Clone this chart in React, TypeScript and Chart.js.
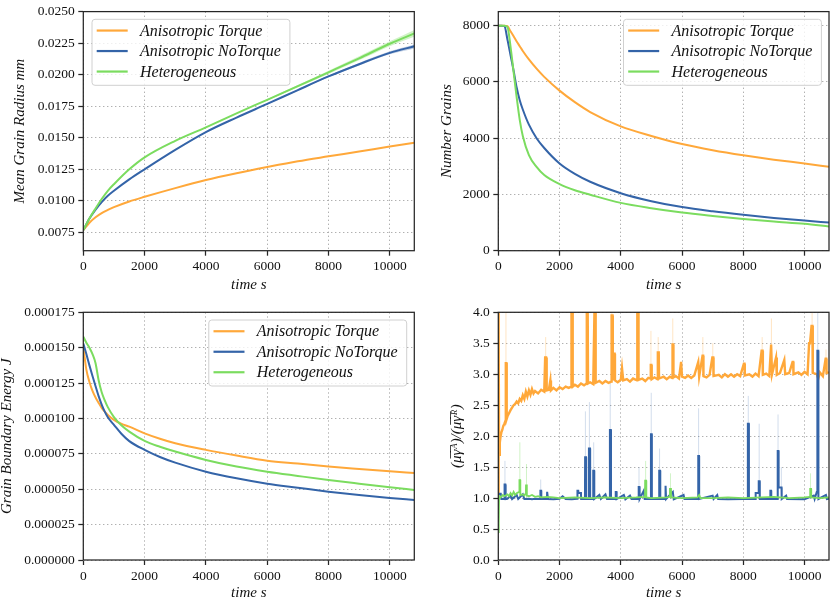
import React, { useEffect, useRef } from "react";
import { Chart, registerables } from "chart.js";

Chart.register(...registerables);

// ---------- labels / colours ----------
const seriesNames = ["Anisotropic Torque", "Anisotropic NoTorque", "Heterogeneous"];
const seriesColors = ["#ffa83a", "#3464a8", "#7bdc5f"];

// ---------- ticks ----------
const timeTicks = [0, 2000, 4000, 6000, 8000, 10000];
const radiusTicks = [0.0075, 0.01, 0.0125, 0.015, 0.0175, 0.02, 0.0225, 0.025];
const grainTicks = [0, 2000, 4000, 6000, 8000];
const energyTicks = [0, 0.000025, 0.00005, 0.000075, 0.0001, 0.000125, 0.00015, 0.000175];
const ratioTicks = [0, 0.5, 1, 1.5, 2, 2.5, 3, 3.5, 4];

// ---------- Mean grain radius ----------
const radiusTime = [0, 200, 400, 600, 800, 1000, 1500, 2000, 3000, 4000, 5000, 6000, 7000, 8000, 9000, 10000, 10800];
const radiusTorque = [0.00768, 0.00827, 0.0087, 0.00903, 0.00928, 0.0095, 0.00995, 0.01032, 0.01101, 0.01165, 0.01219, 0.01268, 0.01314, 0.01353, 0.01391, 0.0143, 0.0146];
const radiusNoTorque = [0.00768, 0.0086, 0.0093, 0.0099, 0.0104, 0.0108, 0.0117, 0.0125, 0.01404, 0.01545, 0.0166, 0.01768, 0.01878, 0.01986, 0.02083, 0.02173, 0.02225];
const radiusHetero = [0.00768, 0.0086, 0.0094, 0.01015, 0.0108, 0.01132, 0.0125, 0.01345, 0.01476, 0.01583, 0.01694, 0.01801, 0.01909, 0.02019, 0.0213, 0.02245, 0.02327];
const bandTime = [6000, 7000, 8000, 9000, 10000, 10800];
const heteroUpper = [0.01806, 0.01918, 0.02032, 0.02146, 0.02265, 0.02355];
const heteroLower = [0.01796, 0.019, 0.02006, 0.02114, 0.02225, 0.023];
const noTorqueUpper = [0.01772, 0.01883, 0.01993, 0.02093, 0.02185, 0.0224];
const noTorqueLower = [0.01764, 0.01873, 0.01979, 0.02073, 0.02161, 0.02208];

// ---------- Number of grains ----------
const grainTime = [0, 100, 200, 300, 400, 500, 600, 700, 800, 1000, 1250, 1500, 2000, 2500, 3000, 4000, 5000, 6000, 7000, 8000, 9000, 10000, 10800];
const grainsTorque = [8000, 8000, 8000, 7980, 7800, 7620, 7440, 7270, 7100, 6800, 6470, 6180, 5690, 5280, 4930, 4420, 4080, 3790, 3570, 3390, 3235, 3100, 2985];
const grainsNoTorque = [8000, 8000, 7980, 7500, 6950, 6400, 5800, 5350, 5020, 4480, 4000, 3650, 3100, 2730, 2450, 2045, 1760, 1550, 1400, 1275, 1165, 1070, 1000];
const grainsHetero = [8000, 8000, 8000, 7950, 7250, 6350, 5450, 4650, 4080, 3400, 2980, 2690, 2370, 2150, 1990, 1700, 1510, 1356, 1235, 1126, 1035, 954, 862];

// ---------- Grain boundary energy ----------
const energyTime = [0, 100, 200, 300, 400, 500, 600, 700, 800, 1000, 1250, 1500, 2000, 2500, 3000, 4000, 5000, 6000, 7000, 8000, 9000, 10000, 10800];
const energyTorque = [0.0001506, 0.0001345, 0.0001258, 0.0001195, 0.0001148, 0.000111, 0.0001075, 0.0001048, 0.0001025, 0.000099, 0.0000962, 0.0000942, 0.0000895, 0.0000857, 0.0000825, 0.0000778, 0.0000738, 0.0000702, 0.0000681, 0.000066, 0.0000643, 0.0000627, 0.0000615];
const energyNoTorque = [0.000153, 0.0001455, 0.0001375, 0.00013, 0.0001228, 0.0001158, 0.0001098, 0.0001048, 0.0001008, 0.0000955, 0.000089, 0.000084, 0.0000778, 0.0000728, 0.0000688, 0.0000624, 0.0000577, 0.0000539, 0.0000511, 0.0000483, 0.0000459, 0.0000438, 0.0000424];
const energyHetero = [0.0001577, 0.0001535, 0.00015, 0.0001455, 0.000139, 0.000127, 0.0001185, 0.0001128, 0.000108, 0.000101, 0.000095, 0.0000907, 0.0000841, 0.00008, 0.0000766, 0.0000707, 0.000066, 0.0000624, 0.0000594, 0.0000565, 0.0000539, 0.0000514, 0.0000495];

// ---------- mobility*energy ratio: [time, value] ----------
const ratioTorque: [number, number][] = [
  [0, 1.05], [10, 4.0], [25, 1.7], [50, 1.9], [75, 2.0], [100, 2.06], [130, 2.1], [160, 2.16], [200, 2.2], [235, 2.25], [245, 3.18], [265, 3.18], [275, 2.28],
  [300, 2.32], [350, 2.37], [400, 2.42], [450, 2.46], [500, 2.5], [550, 2.52], [600, 2.56], [650, 2.53], [700, 2.6], [750, 2.57], [800, 2.66], [850, 2.6],
  [900, 2.72], [950, 2.64], [1000, 2.74], [1050, 2.67], [1100, 2.76], [1150, 2.69], [1200, 2.73], [1300, 2.69], [1400, 2.75], [1500, 2.72], [1530, 3.27], [1560, 3.27],
  [1580, 2.74], [1650, 2.75], [1700, 2.9], [1720, 2.74], [1800, 2.78], [1900, 2.74], [2000, 2.79], [2100, 2.76], [2200, 2.8], [2300, 2.78], [2380, 2.8], [2390, 4.0],
  [2420, 4.0], [2430, 2.8], [2500, 2.83], [2600, 2.8], [2700, 2.85], [2800, 2.82], [2880, 2.85], [2890, 4.0], [2920, 4.0], [2930, 2.85], [3000, 2.87], [3100, 2.84],
  [3140, 4.0], [3170, 4.0], [3180, 2.86], [3300, 2.89], [3400, 2.85], [3500, 2.89], [3600, 2.86], [3690, 2.88], [3700, 3.95], [3730, 3.95], [3740, 2.9], [3770, 3.33],
  [3800, 3.33], [3810, 2.9], [3900, 2.87], [4000, 2.91], [4040, 3.1], [4070, 3.1], [4080, 2.9], [4200, 2.92], [4300, 2.88], [4400, 2.93], [4530, 2.9], [4540, 4.0],
  [4570, 4.0], [4580, 2.91], [4700, 2.93], [4800, 2.89], [4900, 2.94], [4970, 2.93], [4980, 3.15], [5000, 3.15], [5010, 2.92], [5100, 2.95], [5200, 2.92], [5210, 3.35],
  [5240, 3.35], [5250, 2.93], [5400, 2.96], [5500, 2.92], [5600, 2.96], [5680, 2.94], [5690, 3.48], [5710, 3.48], [5720, 2.95], [5800, 2.97], [5900, 2.93], [5970, 3.2],
  [5990, 3.2], [6000, 2.96], [6100, 2.94], [6200, 2.98], [6300, 2.94], [6400, 2.98], [6530, 3.2], [6550, 3.2], [6560, 2.96], [6670, 3.3], [6690, 3.3], [6700, 2.97],
  [6800, 2.95], [6900, 2.99], [6990, 3.27], [7020, 3.27], [7030, 2.97], [7200, 2.99], [7300, 2.95], [7400, 3.0], [7500, 2.96], [7600, 3.0], [7700, 2.96], [7800, 3.0],
  [7900, 2.97], [8020, 3.17], [8040, 3.17], [8050, 2.98], [8200, 3.0], [8300, 2.96], [8400, 3.01], [8500, 2.97], [8600, 3.38], [8630, 3.38], [8640, 2.99], [8750, 3.01],
  [8850, 2.97], [8910, 3.48], [8930, 3.48], [8940, 3.0], [9070, 3.27], [9090, 3.27], [9100, 2.99], [9200, 3.02], [9340, 3.23], [9360, 3.23], [9370, 3.0], [9500, 3.02],
  [9610, 3.2], [9630, 3.2], [9640, 3.0], [9800, 3.03], [9900, 2.99], [10000, 3.04], [10100, 3.0], [10150, 3.5], [10180, 3.5], [10230, 3.78], [10260, 3.78], [10270, 3.02],
  [10400, 3.0], [10450, 2.93], [10500, 3.03], [10600, 2.97], [10690, 3.25], [10710, 3.25], [10720, 3.02], [10800, 3.03],
];
const ratioNoTorque: [number, number][] = [
  [0, 1.05], [40, 1.07], [80, 1.07], [100, 0.985], [200, 0.985], [205, 1.22], [230, 1.22], [240, 0.985], [300, 0.99], [400, 1.04], [450, 0.985], [600, 1.05],
  [650, 0.985], [800, 1.06], [850, 0.985], [1000, 0.99], [1100, 0.98], [1200, 0.99], [1370, 0.985], [1375, 1.12], [1400, 1.12], [1405, 0.985], [1590, 0.985],
  [1595, 1.1], [1620, 1.1], [1625, 0.985], [1800, 0.98], [2000, 0.99], [2100, 1.03], [2200, 0.985], [2400, 0.98], [2580, 0.99], [2585, 1.12], [2610, 1.12],
  [2615, 1.08], [2700, 1.08], [2705, 0.985], [2830, 0.985], [2835, 1.66], [2865, 1.66], [2870, 0.985], [2955, 0.985], [2960, 1.8], [2995, 1.8], [3000, 0.985],
  [3095, 0.985], [3100, 1.44], [3130, 1.44], [3135, 0.985], [3300, 1.05], [3350, 0.985], [3500, 1.06], [3550, 0.985], [3640, 0.985], [3645, 2.1], [3675, 2.1],
  [3680, 0.985], [3830, 0.985], [3835, 1.1], [3860, 1.1], [3865, 0.985], [4100, 1.05], [4150, 0.98], [4300, 1.04], [4350, 0.985], [4580, 0.985], [4585, 1.18],
  [4610, 1.18], [4615, 0.985], [4750, 1.12], [4780, 0.985], [4980, 0.985], [4985, 2.03], [5010, 2.03], [5015, 0.985], [5250, 0.985], [5255, 1.44], [5285, 1.44],
  [5290, 0.985], [5445, 0.985], [5450, 1.2], [5475, 1.2], [5480, 0.985], [5700, 1.1], [5730, 0.98], [6050, 1.05], [6080, 0.985], [6525, 0.985], [6530, 1.68],
  [6555, 1.68], [6560, 0.985], [7000, 1.04], [7030, 0.985], [7150, 1.05], [7180, 0.985], [7500, 0.98], [8000, 0.985], [8145, 0.985], [8150, 2.2], [8180, 2.2],
  [8185, 0.985], [8400, 0.985], [8405, 1.08], [8500, 1.08], [8505, 1.27], [8535, 1.27], [8540, 0.985], [8880, 0.985], [8885, 1.12], [8910, 1.12], [8915, 0.985],
  [9120, 0.985], [9125, 1.76], [9150, 1.76], [9155, 1.17], [9250, 1.17], [9255, 0.985], [9400, 1.04], [9430, 0.985], [10000, 0.98], [10300, 1.04], [10330, 0.985],
  [10400, 1.1], [10415, 1.1], [10420, 3.38], [10450, 3.38], [10455, 0.985], [10700, 1.05], [10730, 0.985], [10800, 0.99],
];
const ratioHetero: [number, number][] = [
  [0, 0.45], [15, 0.6], [25, 1.0], [50, 1.03], [100, 1.02], [150, 1.05], [200, 1.03], [300, 1.06], [350, 1.03], [400, 1.08], [450, 1.04], [500, 1.1], [550, 1.05],
  [600, 1.08], [680, 1.1], [690, 1.29], [715, 1.29], [720, 1.05], [800, 1.06], [850, 1.04], [900, 1.08], [905, 1.22], [930, 1.22], [935, 1.04], [1000, 1.03],
  [1100, 1.05], [1200, 1.02], [1300, 1.03], [1400, 1.01], [1600, 1.02], [1800, 1.01], [2000, 1.0], [2500, 1.01], [3000, 1.0], [3500, 1.01], [4000, 1.0],
  [4500, 1.01], [4790, 1.02], [4795, 1.28], [4830, 1.28], [4835, 1.01], [5000, 1.0], [5500, 1.01], [5600, 1.02], [5605, 1.15], [5640, 1.15], [5645, 1.01],
  [6000, 1.0], [6500, 1.01], [6560, 1.05], [6600, 1.0], [7000, 1.0], [7500, 1.01], [8000, 1.0], [8600, 1.01], [9000, 1.02], [9500, 1.0], [10000, 1.01],
  [10180, 1.02], [10185, 1.15], [10215, 1.15], [10220, 1.01], [10500, 1.0], [10800, 1.01],
];
// faint spread spikes: [time, low, high]
const spreadTorque: [number, number, number][] = [
  [20, 1.8, 4.0], [250, 2.3, 4.0], [1547, 2.74, 3.6], [2400, 2.8, 4.0], [2900, 2.85, 4.0], [3158, 2.86, 4.0], [3710, 2.88, 4.0], [4553, 2.9, 4.0],
  [4985, 2.93, 3.7], [5222, 2.93, 3.6], [5698, 2.94, 3.9], [6680, 2.97, 3.6], [7005, 2.97, 3.5], [8617, 2.99, 3.6], [8920, 3.0, 3.9], [10248, 3.02, 4.0], [10702, 3.02, 3.4],
];
const spreadNoTorque: [number, number, number][] = [
  [217, 1.0, 1.6], [1385, 1.0, 1.3], [2845, 1.0, 2.4], [2975, 1.0, 2.55], [3115, 1.0, 1.9], [3655, 1.0, 2.9], [4595, 1.0, 1.5], [4995, 1.0, 2.7],
  [5267, 1.0, 1.8], [6541, 1.0, 2.45], [8164, 1.0, 2.65], [8520, 1.0, 2.2], [9136, 1.0, 2.35], [9244, 1.0, 1.5], [10433, 1.0, 4.0],
];
const spreadHetero: [number, number, number][] = [
  [704, 1.0, 1.9], [920, 1.0, 1.55], [4812, 1.0, 1.6], [5623, 1.0, 1.4], [10195, 1.0, 1.4],
];

// ---------- styling ----------
const FONT = "'Liberation Serif', 'DejaVu Serif', serif";
const TEXT = "#111111";
const SPINE = "#262626";
const GRID = "#b0b0b0";

const frame = {
  id: "frame",
  afterDatasetsDraw(chart: any) {
    const { ctx, chartArea: a } = chart;
    ctx.save();
    ctx.strokeStyle = SPINE;
    ctx.lineWidth = 1.25;
    ctx.strokeRect(a.left, a.top, a.right - a.left, a.bottom - a.top);
    ctx.restore();
  },
};

const boxLegend = {
  id: "boxLegend",
  afterDraw(chart: any, _args: any, opts: any) {
    if (!opts || !opts.show) return;
    const { ctx, chartArea: a } = chart;
    ctx.save();
    ctx.font = "italic 16px " + FONT;
    const tw = Math.max(...seriesNames.map((s) => ctx.measureText(s).width));
    const lineLen = 31, padL = 4.7, gap = 12.3, padR = 9, rowH = 20.5;
    const w = padL + lineLen + gap + tw + padR;
    const h = 66;
    const x = opts.corner === "left" ? a.left + 8.7 : a.right - 7.6 - w;
    const y = a.top + 7.7;
    ctx.beginPath();
    ctx.roundRect(x, y, w, h, 3);
    ctx.fillStyle = "rgba(255,255,255,0.8)";
    ctx.fill();
    ctx.strokeStyle = "#d0d0d0";
    ctx.lineWidth = 1;
    ctx.stroke();
    seriesNames.forEach((name, i) => {
      const cy = y + 1 + rowH * (i + 0.5);
      ctx.beginPath();
      ctx.moveTo(x + padL, cy);
      ctx.lineTo(x + padL + lineLen, cy);
      ctx.strokeStyle = seriesColors[i];
      ctx.lineWidth = 2.2;
      ctx.stroke();
      ctx.fillStyle = TEXT;
      ctx.textBaseline = "middle";
      ctx.textAlign = "left";
      ctx.fillText(name, x + padL + lineLen + gap, cy + 1);
    });
    ctx.restore();
  },
};

const pts = (times: number[], vals: number[]) => times.map((t, i) => ({ x: t, y: vals[i] }));
const pairs = (p: [number, number][]) => p.map(([x, y]) => ({ x, y }));
const spikes = (s: [number, number, number][]) => {
  const out: any[] = [];
  s.forEach(([t, lo, hi]) => out.push({ x: t, y: lo }, { x: t, y: hi }, { x: t, y: null }));
  return out;
};

const tickFont = { family: FONT, size: 13.5 };
const titleFont = { family: FONT, size: 15, style: "italic" as const, lineHeight: 1.2 };

function scales(spec: any) {
  const grid = { color: GRID, lineWidth: 1, drawTicks: true, tickLength: 5, tickColor: SPINE, tickWidth: 1.25, tickBorderDash: [] };
  const border = { display: false, dash: [1.4, 2.6] };
  return {
    x: {
      type: "linear",
      min: 0,
      max: 10800,
      afterBuildTicks: (s: any) => { s.ticks = timeTicks.map((v) => ({ value: v })); },
      afterFit: (s: any) => { s.height = spec.xH; },
      ticks: { font: tickFont, color: TEXT, padding: 3, maxRotation: 0, autoSkip: false, callback: (v: any) => String(v) },
      grid, border,
      title: { display: true, text: "time s", font: titleFont, color: TEXT, padding: { top: 0, bottom: spec.xPad } },
    },
    y: {
      type: "linear",
      min: spec.yMin,
      max: spec.yMax,
      afterBuildTicks: (s: any) => { s.ticks = spec.yTicks.map((v: number) => ({ value: v })); },
      afterFit: (s: any) => { s.width = spec.yW; },
      ticks: { font: tickFont, color: TEXT, padding: 3.5, autoSkip: false, callback: (v: any) => Number(v).toFixed(spec.dec) },
      grid, border,
      title: { display: true, text: spec.yTitle, font: titleFont, color: TEXT, padding: { top: spec.yPad, bottom: 0 } },
    },
  };
}

function line(data: any[], color: string, order: number, width = 2, smooth = true) {
  return {
    data, borderColor: color, backgroundColor: color, borderWidth: width, pointRadius: 0, fill: false, order,
    cubicInterpolationMode: smooth ? "monotone" : "default", tension: smooth ? 0.4 : 0, spanGaps: false,
  };
}

function config(spec: any, datasets: any[], legend: any) {
  return {
    type: "line",
    data: { datasets },
    options: {
      animation: false,
      responsive: false,
      parsing: true,
      layout: { padding: spec.pad },
      scales: scales(spec),
      plugins: { legend: { display: false }, tooltip: { enabled: false }, boxLegend: legend },
    },
    plugins: [frame, boxLegend],
  } as any;
}

function buildConfigs() {
  const [cO, cB, cG] = seriesColors;
  const A = config(
    { pad: { left: 0, top: 4.3, right: 415.7, bottom: 322 }, yW: 83.3, xH: 47.3, xPad: 4, yPad: 11,
      yMin: 0.00605, yMax: 0.025, yTicks: radiusTicks, dec: 4, yTitle: "Mean Grain Radius mm" },
    [
      { ...line(pts(bandTime, heteroUpper), "rgba(0,0,0,0)", 10, 0), fill: "+1", backgroundColor: "rgba(123,220,95,0.35)" },
      line(pts(bandTime, heteroLower), "rgba(0,0,0,0)", 10, 0),
      { ...line(pts(bandTime, noTorqueUpper), "rgba(0,0,0,0)", 10, 0), fill: "+1", backgroundColor: "rgba(52,100,168,0.3)" },
      line(pts(bandTime, noTorqueLower), "rgba(0,0,0,0)", 10, 0),
      line(pts(radiusTime, radiusTorque), cO, 3),
      line(pts(radiusTime, radiusNoTorque), cB, 2),
      line(pts(radiusTime, radiusHetero), cG, 1),
    ],
    { show: true, corner: "left" }
  );
  const B = config(
    { pad: { left: 425, top: 4.3, right: 1, bottom: 322 }, yW: 73.3, xH: 47.3, xPad: 4, yPad: 12.7,
      yMin: 0, yMax: 8500, yTicks: grainTicks, dec: 0, yTitle: "Number Grains" },
    [
      line(pts(grainTime, grainsTorque), cO, 3),
      line(pts(grainTime, grainsNoTorque), cB, 2),
      line(pts(grainTime, grainsHetero), cG, 1),
    ],
    { show: true, corner: "right" }
  );
  const C = config(
    { pad: { left: 0, top: 312.3, right: 415.7, bottom: 0 }, yW: 83.3, xH: 60, xPad: 18.3, yPad: -2,
      yMin: 0, yMax: 0.000175, yTicks: energyTicks, dec: 6, yTitle: "Grain Boundary Energy J" },
    [
      line(pts(energyTime, energyTorque), cO, 3),
      line(pts(energyTime, energyNoTorque), cB, 2),
      line(pts(energyTime, energyHetero), cG, 1),
    ],
    { show: true, corner: "right" }
  );
  const D = config(
    { pad: { left: 425, top: 312.3, right: 1, bottom: 0 }, yW: 73.3, xH: 60, xPad: 18.3, yPad: 22.7,
      yMin: 0, yMax: 4, yTicks: ratioTicks, dec: 1, yTitle: "(\u03bc\u0305\u03b3\u0305\u1d2c)/(\u03bc\u0305\u03b3\u0305\u1d3f)" },
    [
      line(spikes(spreadTorque), "rgba(255,168,58,0.3)", 12, 1, false),
      line(spikes(spreadNoTorque), "rgba(52,100,168,0.22)", 11, 1, false),
      line(spikes(spreadHetero), "rgba(123,220,95,0.35)", 10, 1, false),
      line(pairs(ratioTorque), cO, 3, 2.4, false),
      line(pairs(ratioNoTorque), cB, 2, 2, false),
      line(pairs(ratioHetero), cG, 1, 1.8, false),
    ],
    { show: false }
  );
  return [A, B, C, D];
}

export default function App() {
  const r0 = useRef<HTMLCanvasElement>(null);
  const r1 = useRef<HTMLCanvasElement>(null);
  const r2 = useRef<HTMLCanvasElement>(null);
  const r3 = useRef<HTMLCanvasElement>(null);
  const refs = [r0, r1, r2, r3];
  useEffect(() => {
    const cfgs = buildConfigs();
    const charts = refs.map((r, i) => new Chart(r.current as HTMLCanvasElement, cfgs[i]));
    return () => charts.forEach((c) => c.destroy());
  }, []);
  return (
    <div style={{ position: "absolute", left: 0, top: 0, width: 830, height: 598, overflow: "hidden", background: "#ffffff" }}>
      {refs.map((r, i) => (
        <canvas key={i} ref={r} width={830} height={620} style={{ position: "absolute", left: 0, top: 0 }} />
      ))}
    </div>
  );
}
